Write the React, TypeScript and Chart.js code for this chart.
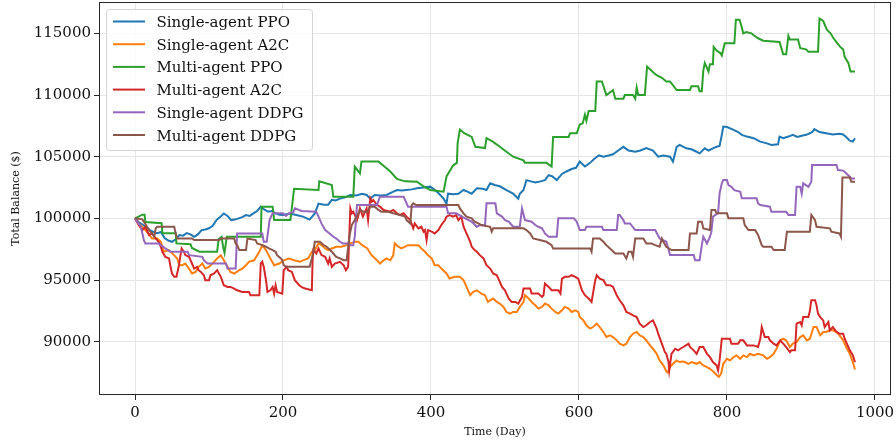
import React, { useEffect, useRef } from "react";
import { Chart, registerables } from "chart.js";

Chart.register(...registerables);

const FONT = "'DejaVu Serif', serif";

const xTicks = [0, 200, 400, 600, 800, 1000];
const yTicks = [90000, 95000, 100000, 105000, 110000, 115000];

const seriesLabels = [
  "Single-agent PPO",
  "Single-agent A2C",
  "Multi-agent PPO",
  "Multi-agent A2C",
  "Single-agent DDPG",
  "Multi-agent DDPG",
];
const seriesColors = ["#1f77b4", "#ff7f0e", "#2ca02c", "#d62728", "#9467bd", "#8c564b"];

// [day, total balance]
const singlePpo = [
  [0,100000],[5,99700],[10,99500],[15,99300],[20,99050],[25,98900],[30,98800],[35,98900],[40,98400],[45,98200],
  [50,98100],[55,98300],[60,98650],[65,98600],[70,98800],[75,98700],[80,98500],[85,98700],[90,99050],[95,99100],
  [100,99200],[105,99400],[110,99860],[115,100100],[120,100400],[125,100200],[130,99860],[135,99900],[140,100000],[145,100100],
  [150,100270],[155,100200],[160,100400],[165,100600],[170,100950],[175,100700],[180,100540],[185,100600],[190,100400],[195,100300],
  [200,100270],[209,100400],[218,100270],[227,100140],[236,99900],[243,100400],[248,101200],[255,101100],[261,101100],[266,101500],
  [271,101450],[277,101600],[284,101700],[291,101900],[299,101850],[307,102000],[313,101900],[318,101600],[324,101900],[332,101850],
  [340,101900],[347,102100],[354,102300],[360,102250],[367,102300],[374,102350],[381,102440],[390,102500],[399,102570],[408,102170],
  [417,101600],[421,101200],[423,102000],[430,101950],[437,102000],[444,102300],[450,102150],[455,102000],[462,102440],[470,102400],
  [475,102300],[480,102840],[486,102700],[493,102600],[502,102290],[511,102000],[518,101600],[520,102000],[525,102300],[529,103100],
  [535,103000],[541,102900],[548,103000],[554,103100],[559,103500],[564,103400],[570,103100],[577,103600],[583,103800],[590,104000],
  [596,104100],[601,104600],[608,104200],[615,104500],[622,104900],[627,105100],[633,105000],[640,105100],[646,105200],[653,105500],
  [660,105800],[667,105500],[676,105400],[683,105500],[691,105700],[700,105500],[707,105000],[714,105100],[723,105000],[727,104600],
  [732,105800],[736,105950],[745,105680],[752,105600],[759,105400],[763,105270],[770,105680],[775,105500],[781,105680],[786,105800],
  [790,105870],[793,106770],[795,107440],[800,107400],[809,107170],[815,107000],[820,106770],[827,106630],[836,106500],[845,106220],
  [854,106080],[860,105950],[869,106000],[871,106630],[876,106500],[883,106630],[889,106770],[895,106600],[901,106700],[907,106770],
  [912,106900],[916,107040],[918,107230],[925,107000],[934,106900],[943,106800],[952,106850],[957,106800],[961,106600],[966,106300],
  [970,106220],[973,106500],
];

const singleA2c = [
  [0,100000],[5,99590],[10,99300],[14,99050],[19,98700],[23,98370],[30,98370],[35,98100],[39,97290],[46,97430],
  [53,97000],[57,96750],[60,96200],[64,96200],[68,96340],[73,95930],[77,95530],[82,95660],[86,96070],[91,96340],
  [95,95930],[100,96070],[107,96480],[111,96750],[116,97000],[120,96600],[125,96070],[129,95660],[134,95530],[141,95800],
  [145,95930],[150,96200],[154,96480],[161,96600],[168,97290],[172,97830],[177,97430],[183,96750],[188,96200],[195,96340],
  [201,96600],[208,96750],[215,96600],[223,96480],[227,96600],[234,96750],[239,97290],[243,97430],[248,97970],[252,97830],
  [257,97560],[261,97430],[266,97560],[272,97700],[279,97700],[286,97830],[291,97970],[297,98100],[302,98100],[307,97830],
  [314,97560],[318,97150],[322,96880],[327,96600],[331,96340],[336,96600],[340,96750],[345,96600],[349,97000],[351,97970],
  [356,97700],[360,97560],[365,97700],[369,97830],[376,97830],[383,97830],[387,97560],[392,97290],[396,97000],[401,96750],
  [405,96200],[410,96200],[414,95930],[421,95530],[425,95120],[432,95260],[439,95260],[444,94990],[448,94440],[453,93770],
  [457,94040],[462,94170],[468,93900],[473,93770],[477,93220],[480,93360],[484,93500],[489,93220],[493,93090],[498,92820],
  [502,92410],[507,92280],[511,92410],[516,92410],[520,92820],[525,93220],[527,93770],[532,93500],[536,93220],[541,92950],
  [545,92680],[550,92820],[554,93090],[559,92950],[563,92680],[568,92410],[572,92280],[577,92550],[581,92820],[586,92680],
  [590,92410],[595,92550],[599,92410],[601,92000],[606,91730],[610,91330],[615,91060],[619,91190],[624,91460],[628,91190],
  [633,90790],[637,90380],[642,90520],[646,90380],[651,90110],[655,89840],[660,89700],[664,89840],[669,90380],[673,90650],
  [678,90790],[682,90520],[687,90380],[691,90110],[696,89700],[700,89430],[705,89020],[709,88480],[714,88080],[718,87600],
  [720,87500],[723,87940],[727,88210],[732,88480],[736,88350],[740,88400],[743,88350],[748,88210],[752,88350],[759,88210],
  [763,88350],[768,88080],[773,87940],[777,87800],[781,87600],[786,87300],[789,87150],[792,87400],[795,88210],[800,88620],
  [804,88480],[809,88750],[813,88890],[818,88620],[822,88890],[827,88750],[831,89020],[836,88890],[842,89020],[849,88890],
  [854,88620],[858,88750],[863,89020],[867,89430],[872,90110],[876,90240],[880,90110],[885,89570],[889,89840],[894,89970],
  [899,90380],[903,90520],[908,90110],[912,90240],[917,91190],[921,91190],[926,90520],[930,90790],[934,90790],[939,90920],
  [943,90920],[948,90790],[952,90520],[957,90110],[961,89570],[966,89020],[970,88350],[973,87750],
];

const multiPpo = [
  [0,100000],[10,100300],[13,100300],[14,99700],[36,99600],[37,98800],[55,98800],[56,97970],[75,97900],[77,97600],
  [87,97300],[111,97300],[113,98300],[117,98500],[119,97700],[121,97200],[124,98500],[170,98500],[171,100950],[186,100950],
  [188,99860],[210,99860],[215,102400],[248,102300],[249,103000],[266,102700],[268,101750],[295,101750],[297,104200],[304,103650],
  [306,104600],[329,104600],[335,104300],[345,103800],[354,103200],[365,103000],[381,102970],[390,102600],[399,102300],[417,102160],
  [421,103400],[430,104300],[435,104500],[436,106100],[439,107200],[445,106900],[455,106600],[460,105800],[473,105700],[475,106500],
  [484,106200],[493,105800],[502,105400],[511,105000],[525,104700],[527,104500],[556,104500],[563,104200],[565,106600],[586,106600],
  [588,106900],[597,106900],[601,107600],[605,107700],[608,108400],[610,107900],[613,108700],[622,108700],[624,111100],[631,111100],
  [637,110000],[646,110400],[649,109700],[660,109700],[662,110000],[673,110000],[676,109700],[678,110600],[680,110000],[689,110000],
  [692,112300],[701,111800],[705,111600],[712,111400],[718,111100],[723,111100],[732,110400],[750,110400],[752,110700],[761,110700],
  [763,110300],[766,110300],[768,112000],[770,112600],[773,112200],[775,111900],[777,112500],[781,112500],[782,113900],[786,113600],
  [791,113400],[793,113200],[797,114200],[810,114200],[812,116100],[817,116100],[820,115500],[822,115000],[826,115100],[833,115000],
  [837,114800],[842,114600],[849,114400],[871,114300],[873,113900],[876,113300],[880,113300],[883,114800],[885,114500],[896,114500],
  [899,113800],[907,113700],[910,113500],[923,113500],[925,116200],[930,116000],[935,115300],[940,115000],[944,114600],[949,114200],
  [953,113900],[957,113700],[959,113100],[964,112600],[967,111900],[973,111900],
];

const multiA2c = [
  [0,100000],[5,99460],[10,99050],[14,99320],[19,98650],[23,98780],[28,98370],[32,98100],[35,97700],[37,97290],
  [41,96880],[46,96750],[48,96070],[50,95530],[53,95260],[56,95260],[59,96070],[63,97560],[66,97300],[68,97020],
  [73,96880],[77,96340],[80,95930],[84,96070],[86,95800],[89,95660],[93,95390],[95,94990],[100,94990],[102,95390],
  [107,95530],[111,95800],[116,95260],[120,94580],[125,94440],[129,94440],[134,94310],[138,94170],[145,94040],[154,94040],
  [156,93770],[168,93770],[170,96340],[172,96480],[174,96070],[177,94990],[179,94040],[183,94170],[186,94440],[188,93900],
  [190,94580],[192,94040],[199,93900],[201,95800],[205,96070],[207,95800],[212,95660],[216,94990],[222,94580],[226,94400],
  [230,94310],[239,94170],[240,96600],[241,97430],[245,97150],[248,97560],[252,97020],[257,96880],[261,96340],[263,96750],
  [266,96070],[270,96340],[277,96480],[282,96200],[285,95800],[288,96070],[291,100810],[293,100410],[295,100540],[300,99860],
  [302,100270],[304,100810],[308,100140],[311,100540],[313,100810],[315,99860],[318,101630],[320,101360],[322,101490],[327,101080],
  [331,100950],[336,100680],[345,100540],[349,100680],[354,100410],[358,100270],[363,100410],[367,100140],[372,99860],[376,99190],
  [378,99590],[383,99190],[387,99320],[390,98920],[392,99050],[394,98240],[396,99050],[401,98920],[405,98780],[410,99050],
  [414,99460],[419,99860],[421,100140],[425,100270],[430,100140],[434,100270],[437,99860],[439,100000],[441,100140],[444,99320],
  [448,98780],[453,98100],[455,97700],[459,97430],[462,97290],[466,97020],[471,96750],[475,96200],[480,95930],[484,95530],
  [489,95390],[491,95120],[496,94440],[500,94170],[505,93500],[509,93220],[514,93220],[518,93090],[523,93630],[525,94310],
  [534,94310],[536,93900],[545,93900],[550,93630],[552,93770],[554,94720],[559,94440],[563,94170],[572,94170],[575,93900],
  [577,95120],[581,95260],[586,95260],[590,95390],[595,95260],[599,95120],[604,94170],[608,93770],[613,93500],[617,93220],
  [622,94990],[624,95390],[628,95120],[633,94990],[637,94580],[642,94580],[646,94440],[651,93770],[655,93360],[660,92950],
  [664,92410],[669,92280],[673,92140],[678,92000],[682,91460],[687,91190],[691,91330],[696,91600],[700,91730],[705,91060],
  [707,90650],[712,89840],[716,89160],[718,89020],[721,88350],[722,87670],[725,89020],[730,89430],[734,89300],[737,89430],
  [741,89570],[748,89840],[750,89570],[755,89300],[759,89020],[763,89570],[768,89570],[773,89020],[777,88750],[781,88350],
  [786,88080],[788,87670],[790,88480],[793,90240],[804,90240],[806,89840],[815,89840],[818,90110],[822,90110],[827,89700],
  [836,89700],[842,89570],[845,90240],[847,91190],[849,90790],[851,90380],[856,90380],[858,90110],[863,89840],[867,89700],
  [872,90110],[874,89970],[876,89840],[880,89570],[885,89160],[887,89300],[892,89300],[894,91460],[899,91600],[901,91330],
  [903,92000],[910,92000],[912,92500],[914,93360],[919,93360],[921,92950],[923,92280],[926,92000],[930,91730],[932,91190],
  [937,91600],[939,90920],[943,91190],[948,90790],[952,90650],[957,90650],[959,90240],[964,89570],[966,89300],[970,88900],
  [973,88340],
];

const singleDdpg = [
  [0,100000],[3,99730],[8,99320],[10,98780],[12,98240],[14,97970],[32,97970],[35,97830],[41,97560],[48,97290],
  [71,97290],[73,97020],[91,96880],[93,96610],[98,96340],[123,96340],[125,95930],[136,95930],[138,98780],[172,98780],
  [174,98100],[178,98100],[182,99900],[186,100410],[200,100410],[204,100200],[208,100410],[214,100500],[216,100810],[225,100600],
  [245,100540],[252,99590],[257,99050],[263,98780],[268,98510],[272,98370],[277,98100],[281,97970],[288,97970],[291,97830],
  [295,97830],[297,98510],[300,101080],[327,101080],[331,101760],[363,101760],[369,100950],[421,100950],[423,100410],[434,100410],
  [446,100000],[455,99730],[462,99320],[466,99450],[473,99450],[475,101220],[487,101220],[489,100410],[496,100140],[500,99860],
  [505,99730],[509,99460],[511,99320],[520,99320],[523,100810],[527,99860],[536,99730],[541,99460],[545,99320],[550,99190],
  [554,98780],[559,98510],[570,98510],[572,100000],[593,100000],[597,99730],[601,99050],[608,99050],[610,99320],[631,99320],
  [633,99050],[651,99050],[653,100270],[655,100270],[660,99860],[662,99590],[669,99590],[676,99050],[703,99050],[709,98370],
  [718,98100],[721,97500],[723,97020],[755,97020],[757,96610],[763,96610],[766,97830],[768,98510],[773,97970],[777,98510],
  [779,98920],[781,100140],[788,100410],[790,102030],[793,102850],[795,103100],[800,103100],[802,102700],[806,102560],[810,102290],
  [818,102160],[820,101630],[840,101630],[842,101220],[845,101080],[858,100950],[860,100540],[880,100540],[883,100270],[892,100270],
  [894,102570],[899,102560],[901,102000],[903,102840],[910,102560],[914,102970],[915,104330],[948,104330],[950,103920],[957,103870],
  [961,103650],[966,103380],[968,103240],[973,103240],
];

const multiDdpg = [
  [0,100000],[10,99920],[12,99730],[19,99050],[23,98780],[26,98510],[28,99190],[30,99320],[53,99320],[55,98780],
  [57,98370],[77,98370],[80,98240],[114,98240],[116,98370],[134,98370],[136,97970],[138,97830],[141,97430],[150,97430],
  [152,98370],[163,98240],[165,97970],[172,97830],[177,97700],[181,97560],[186,97430],[190,97290],[192,97020],[197,96750],
  [199,96610],[201,96200],[204,96070],[236,96070],[239,96750],[241,97290],[243,98100],[250,98100],[255,97830],[259,97700],
  [266,97290],[268,97150],[272,96880],[277,96750],[282,96610],[286,96610],[290,98650],[293,99460],[297,99860],[302,100410],
  [304,100680],[309,100540],[314,100540],[318,100950],[324,100950],[329,100680],[333,100540],[342,100540],[349,100410],[358,100270],
  [365,100140],[367,99860],[372,99590],[374,101080],[376,101220],[380,101080],[437,101080],[439,100810],[444,100410],[448,100140],
  [455,100000],[459,99730],[464,99590],[468,99460],[480,99320],[482,98920],[484,99190],[525,99190],[529,99050],[534,98780],
  [538,98370],[547,98240],[556,98100],[563,97830],[565,97560],[615,97560],[617,97290],[619,98370],[628,98370],[633,98100],
  [637,97830],[644,97430],[649,97150],[660,97150],[664,96750],[667,97290],[671,97290],[673,96880],[676,98370],[687,98370],
  [691,97970],[698,97970],[703,97830],[709,97700],[712,98370],[714,98100],[718,97700],[725,97430],[748,97430],[750,98780],
  [759,98780],[761,99730],[766,99730],[768,99190],[777,99050],[779,100680],[784,100680],[786,100410],[800,100410],[802,100000],
  [822,100000],[824,99460],[829,99050],[838,99050],[842,98650],[847,97830],[849,97700],[860,97700],[863,97430],[878,97430],
  [881,98920],[912,98920],[914,100270],[919,99860],[921,99320],[939,99190],[941,98920],[952,98780],[954,98510],[956,103320],
  [966,103320],[968,102970],[973,102970],
];

const allSeries = [singlePpo, singleA2c, multiPpo, multiA2c, singleDdpg, multiDdpg];

const frameLegendPlugin = {
  id: "frameLegend",
  afterDatasetsDraw(chart: any) {
    const { ctx, chartArea: a } = chart;
    ctx.save();
    // axes frame (all four spines)
    ctx.strokeStyle = "#262626";
    ctx.lineWidth = 1;
    ctx.strokeRect(
      Math.round(a.left) + 0.5,
      Math.round(a.top) + 0.5,
      Math.round(a.right - a.left) - 1,
      Math.round(a.bottom - a.top) - 1
    );
    // legend box
    const lx = a.left + 7.5;
    const ly = a.top + 7.5;
    ctx.beginPath();
    (ctx as any).roundRect(lx, ly, 206, 141, 3);
    ctx.fillStyle = "rgba(255,255,255,0.8)";
    ctx.fill();
    ctx.strokeStyle = "#d4d4d4";
    ctx.lineWidth = 1;
    ctx.stroke();
    ctx.font = "15px " + FONT;
    ctx.textBaseline = "alphabetic";
    chart.data.datasets.forEach((ds: any, i: number) => {
      const y = ly + 12 + i * 22.7;
      ctx.strokeStyle = ds.borderColor;
      ctx.lineWidth = 2;
      ctx.beginPath();
      ctx.moveTo(lx + 6.5, y);
      ctx.lineTo(lx + 38.5, y);
      ctx.stroke();
      ctx.fillStyle = "#111";
      ctx.fillText(ds.label, lx + 50, y + 5.5);
    });
    ctx.restore();
  },
};

export default function App() {
  const ref = useRef<HTMLCanvasElement>(null);
  useEffect(() => {
    document.body.style.margin = "0";
    const canvas = ref.current;
    if (!canvas) return;
    const chart = new Chart(canvas, {
      type: "line",
      data: {
        datasets: allSeries.map((s, i) => ({
          label: seriesLabels[i],
          data: s.map((p) => ({ x: p[0], y: p[1] })),
          borderColor: seriesColors[i],
          backgroundColor: seriesColors[i],
          borderWidth: 2,
          pointRadius: 0,
          tension: 0,
          fill: false,
          order: allSeries.length - 1 - i,
        })),
      },
      options: {
        animation: false,
        responsive: false,
        devicePixelRatio: 1,
        layout: { padding: { left: 0, right: 5, top: 2, bottom: 0 } },
        plugins: { legend: { display: false }, tooltip: { enabled: false } },
        scales: {
          x: {
            type: "linear",
            min: -48.65,
            max: 1021.65,
            afterBuildTicks: (s: any) => {
              s.ticks = xTicks.map((v) => ({ value: v }));
            },
            afterFit: (s: any) => {
              s.height = 49;
              s.paddingLeft = 0;
              s.paddingRight = 0;
            },
            ticks: {
              autoSkip: false,
              maxRotation: 0,
              padding: 4,
              color: "#111",
              font: { family: FONT, size: 15 },
              callback: (v: any) => String(v),
            },
            grid: { color: "#e6e6e6", lineWidth: 1, tickLength: 5, tickColor: "#262626", tickWidth: 1 },
            border: { display: false },
            title: {
              display: true,
              text: "Time (Day)",
              color: "#111",
              font: { family: FONT, size: 11 },
              padding: { top: 0, bottom: 5 },
            },
          },
          y: {
            type: "linear",
            min: 85680,
            max: 117540,
            afterBuildTicks: (s: any) => {
              s.ticks = yTicks.map((v) => ({ value: v }));
            },
            afterFit: (s: any) => {
              s.width = 99;
              s.paddingTop = 0;
              s.paddingBottom = 0;
            },
            ticks: {
              padding: 3,
              color: "#111",
              font: { family: FONT, size: 15 },
              callback: (v: any) => String(v),
            },
            grid: { color: "#e6e6e6", lineWidth: 1, tickLength: 5, tickColor: "#262626", tickWidth: 1 },
            border: { display: false },
            title: {
              display: true,
              text: "Total Balance ($)",
              color: "#111",
              font: { family: FONT, size: 11 },
              padding: { top: 10, bottom: 0 },
            },
          },
        },
      },
      plugins: [frameLegendPlugin],
    });
    return () => chart.destroy();
  }, []);
  return (
    <div style={{ width: 896, height: 444 }}>
      <canvas ref={ref} width={896} height={444} style={{ display: "block" }} />
    </div>
  );
}
